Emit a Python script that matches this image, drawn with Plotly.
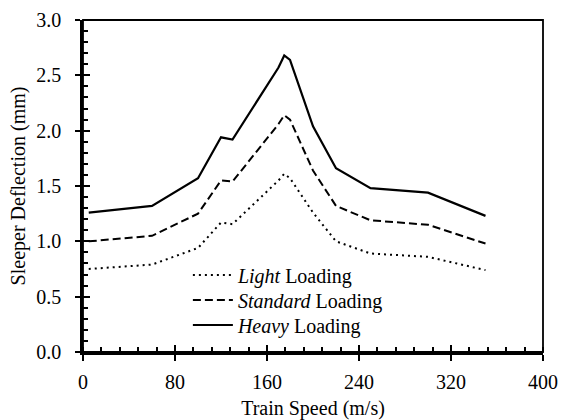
import plotly.graph_objects as go

speed = [5, 60, 100, 120, 130, 170, 175, 180, 200, 220, 250, 300, 350]
light = [0.75, 0.79, 0.94, 1.17, 1.155, 1.55, 1.61, 1.57, 1.26, 1.00, 0.89, 0.86, 0.74]
standard = [1.00, 1.05, 1.25, 1.55, 1.54, 2.06, 2.14, 2.10, 1.64, 1.32, 1.19, 1.15, 0.98]
heavy = [1.26, 1.32, 1.57, 1.94, 1.92, 2.57, 2.68, 2.64, 2.04, 1.66, 1.48, 1.44, 1.23]

names = ["<i>Light</i> Loading", "<i>Standard</i> Loading", "<i>Heavy</i> Loading"]
FONT = "Liberation Serif, Times New Roman, serif"
FS = 20

fig = go.Figure()
fig.add_trace(go.Scatter(x=speed, y=light, mode="lines", name=names[0], legend="legend",
                         line=dict(color="black", width=2, dash="2px,4px")))
fig.add_trace(go.Scatter(x=speed, y=standard, mode="lines", name=names[1], legend="legend2",
                         line=dict(color="black", width=2, dash="8px,4px")))
fig.add_trace(go.Scatter(x=speed, y=heavy, mode="lines", name=names[2], legend="legend3",
                         line=dict(color="black", width=2.2)))
# invisible trace to activate overlay axes (used for inside major ticks)
fig.add_trace(go.Scatter(x=[0, 400], y=[0, 3], xaxis="x2", yaxis="y2", mode="markers",
                         marker=dict(opacity=0), showlegend=False, hoverinfo="skip"))

axis_common = dict(showgrid=False, zeroline=False, showline=True, linecolor="black",
                   linewidth=2.5, tickcolor="black", tickwidth=2, automargin=False,
                   tickfont=dict(family=FONT, size=FS, color="black"))

leg = dict(xanchor="left", yanchor="middle", bgcolor="rgba(0,0,0,0)",
           font=dict(family=FONT, size=FS), itemwidth=40)

fig.update_layout(
    width=561, height=420,
    margin=dict(l=83, r=18, t=20, b=68),
    paper_bgcolor="white", plot_bgcolor="white",
    font=dict(family=FONT, size=FS, color="black"),
    xaxis=dict(range=[0, 400], tickmode="linear", tick0=0, dtick=80,
               ticks="outside", ticklen=6, ticklabelstandoff=4,
               minor=dict(tickmode="linear", tick0=0, dtick=16, ticks="inside", ticklen=5,
                          tickwidth=2, tickcolor="black"),
               title=dict(text="Train Speed (m/s)", font=dict(family=FONT, size=FS), standoff=16),
               **axis_common),
    yaxis=dict(range=[0, 3], tickmode="linear", tick0=0, dtick=0.5, tickformat=".1f",
               ticks="outside", ticklen=5, ticklabelstandoff=10,
               minor=dict(tickmode="linear", tick0=0, dtick=0.1, ticks="inside", ticklen=5,
                          tickwidth=2, tickcolor="black"),
               title=dict(text="Sleeper Deflection (mm)", font=dict(family=FONT, size=FS), standoff=6),
               **axis_common),
    xaxis2=dict(range=[0, 400], overlaying="x", side="bottom", tickmode="linear", tick0=0, dtick=80,
                ticks="inside", ticklen=7, tickwidth=2, tickcolor="black", showticklabels=False,
                showgrid=False, zeroline=False, showline=False, automargin=False),
    yaxis2=dict(range=[0, 3], overlaying="y", side="left", tickmode="linear", tick0=0, dtick=0.5,
                ticks="inside", ticklen=7, tickwidth=2, tickcolor="black", showticklabels=False,
                showgrid=False, zeroline=False, showline=False, automargin=False),
    legend=dict(x=0.228, y=(352 - 275) / 332, **leg),
    legend2=dict(x=0.228, y=(352 - 300) / 332, **leg),
    legend3=dict(x=0.228, y=(352 - 325) / 332, **leg),
    showlegend=True,
    shapes=[dict(type="rect", xref="paper", yref="paper", x0=0, x1=1, y0=0, y1=1,
                 line=dict(color="black", width=1.8), layer="above")],
)

fig.write_html("out.html")
